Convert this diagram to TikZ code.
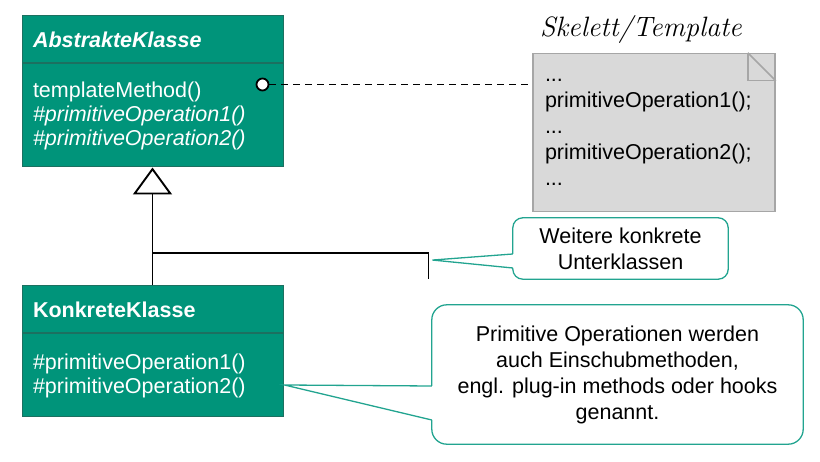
\documentclass[tikz,border=0pt]{standalone}
\usepackage{fontspec}
\setsansfont{Liberation Sans}
\usepackage{xcolor}
\usepackage{tikz}
\usetikzlibrary{positioning, arrows.meta, calc}

\definecolor{umlteal}{RGB}{0,148,122}
\definecolor{umledge}{RGB}{28,112,96}
\definecolor{hintteal}{RGB}{34,164,144}
\definecolor{notegray}{RGB}{217,217,217}
\definecolor{noteedge}{RGB}{166,166,166}

\begin{document}
\begin{tikzpicture}[
    x=1pt, y=-1pt,
    every node/.style={font=\sffamily\fontsize{21.5}{24}\selectfont},
    cls/.style    ={draw=umledge, fill=umlteal, text=white, line width=1pt, align=left,
                    text width=239pt, inner sep=11pt, minimum width=261pt},
    clshead/.style={cls, minimum height=47pt},
    clsbody/.style={cls, minimum height=103pt},
    port/.style   ={circle, draw, fill=white, line width=1.8pt, minimum size=12pt, inner sep=0pt},
    notebox/.style={draw=noteedge, fill=notegray, line width=1.6pt, align=left, text width=218pt,
                    inner sep=12pt, minimum width=242pt, minimum height=158pt,
                    font=\sffamily\fontsize{21.5}{26}\selectfont},
    hint/.style   ={align=center, inner sep=4pt, font=\sffamily\fontsize{21.5}{26}\selectfont},
    hintline/.style={draw=hintteal, line width=1.3pt},
    gline/.style  ={line width=1.9pt},
    gen/.style    ={gline, -{Triangle[open, length=27pt, width=39pt]}},
    dashline/.style={line width=1.9pt, dash pattern=on 7pt off 5pt},
    hand/.style   ={font=\rmfamily\itshape\fontsize{28}{30}\selectfont}
]
\useasboundingbox (0,0) rectangle (820,462);

% Abstract class
\node[clshead] (akhead) at (152.5,39.5) {\bfseries\itshape AbstrakteKlasse};
\node[clsbody, below=0pt of akhead] (akops) {%
    templateMethod()\\
    \itshape\#primitiveOperation1()\\
    \#primitiveOperation2()};

% Concrete class
\node[clshead] (kkhead) at (152.5,309.5) {\bfseries KonkreteKlasse};
\node[clsbody, below=0pt of kkhead, minimum height=83pt] (kkops) {%
    \#primitiveOperation1()\\
    \#primitiveOperation2()};

% Template note
\node[notebox] (skel) at (654,132.5) {%
    ...\\
    primitiveOperation1();\\
    ...\\
    primitiveOperation2();\\
    ...};
\draw[draw=noteedge, line width=1.6pt] ($(skel.north east)+(-28,0)$) |- ($(skel.north east)+(0,28)$);
\draw[draw=noteedge, line width=1.6pt] ($(skel.north east)+(-28,0)$) -- ($(skel.north east)+(0,28)$);
\node[hand] (skeltitle) at (641,30) {Skelett/Template};

% templateMethod -> note
\node[port] (tm) at ($(akops.north east)+(-21,21)$) {};
\draw[dashline] (tm) -- (tm -| skel.west);

% Inheritance
\draw[gen] (kkhead.north) -- (akops.south);
\coordinate (fork) at ($(akops.south)!.725!(kkhead.north)$);
\coordinate (more) at ($(fork)+(276,0)$);
\coordinate (moreend) at ($(more)+(0,26)$);
\draw[gline] (fork) -- (more) -- (moreend);

% Callout: further subclasses
\node[hint, minimum width=215pt, minimum height=61pt] (hintsub) at (620.5,248.5)
    {Weitere konkrete\\Unterklassen};
\coordinate (tipsub) at ($(more)+(4,7)$);
\draw[hintline, rounded corners=10pt] ($(hintsub.west)+(0,5.5)$) -- (hintsub.north west)
    -- (hintsub.north east) -- (hintsub.south east) -- (hintsub.south west)
    -- ($(hintsub.west)+(0,19.5)$);
\draw[hintline] ($(hintsub.west)+(0,5.5)$) -- (tipsub) -- ($(hintsub.west)+(0,19.5)$);

% Callout: hook methods
\node[hint, minimum width=371pt, minimum height=139pt] (hintops) at (617.5,374.5)
    {Primitive Operationen werden\\auch Einschubmethoden,\\engl. plug-in methods oder hooks\\genannt.};
\coordinate (tipops) at ($(kkops.east)+(1,9.5)$);
\draw[hintline, rounded corners=15pt] ($(hintops.west)+(0,11.5)$) -- (hintops.north west)
    -- (hintops.north east) -- (hintops.south east) -- (hintops.south west)
    -- ($(hintops.west)+(0,45.5)$);
\draw[hintline] ($(hintops.west)+(0,11.5)$) -- (tipops) -- ($(hintops.west)+(0,45.5)$);
\end{tikzpicture}
\end{document}
